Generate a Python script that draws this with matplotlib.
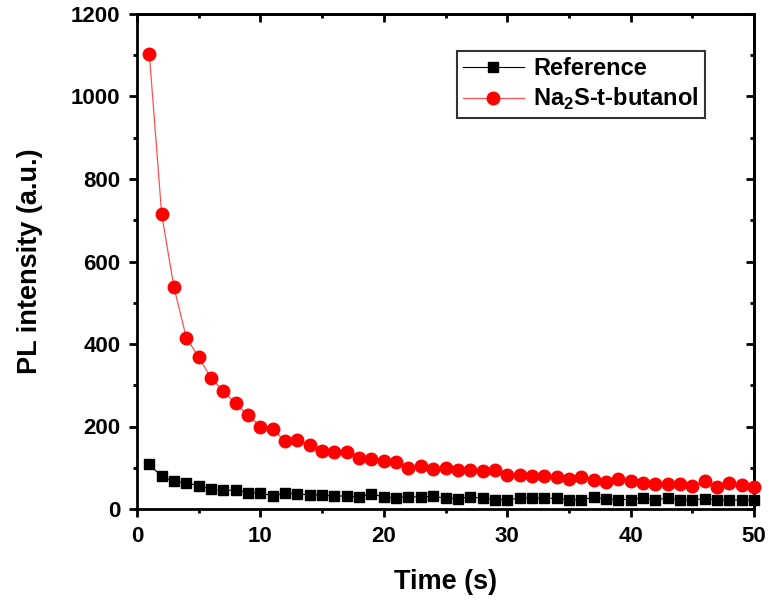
import matplotlib
matplotlib.use("Agg")
import matplotlib.pyplot as plt
from matplotlib.ticker import MultipleLocator

time_s = list(range(1, 51))
reference = [108, 79, 67, 64, 56, 48, 45, 46, 40, 39,
             32, 38, 37, 34, 34, 31, 32, 29, 37, 29,
             27, 30, 29, 31, 26, 25, 29, 26, 23, 23,
             26, 27, 26, 26, 22, 23, 28, 24, 23, 23,
             27, 22, 27, 22, 22, 25, 22, 21, 22, 22]
na2s_tbutanol = [1103, 714, 537, 415, 368, 318, 285, 256, 227, 200,
                 194, 164, 167, 155, 140, 138, 139, 123, 121, 117,
                 113, 99, 105, 98, 100, 94, 94, 92, 94, 82,
                 83, 81, 79, 77, 72, 77, 70, 65, 73, 69,
                 64, 60, 60, 60, 56, 67, 54, 64, 57, 54]

plt.rcParams['font.family'] = ['Liberation Sans', 'DejaVu Sans']
plt.rcParams['font.weight'] = 'bold'
plt.rcParams['mathtext.fontset'] = 'custom'
plt.rcParams['mathtext.bf'] = 'Liberation Sans:bold'
plt.rcParams['mathtext.rm'] = 'Liberation Sans:bold'

fig = plt.figure(figsize=(7.69, 6.03), dpi=100)
ax = fig.add_axes([137/769, 1 - 509/603, (754 - 137)/769, (509 - 14)/603])

ax.plot(time_s, reference, color='black', lw=0.8, marker='s', ms=7.5,
        mfc='black', mec='black', label='Reference', clip_on=False, zorder=3)
ax.plot(time_s, na2s_tbutanol, color='#ff5050', lw=0.9, marker='o', ms=9,
        mfc='red', mec='red', label=r'Na$_{\mathbf{2}}$S-t-butanol', clip_on=False, zorder=3)

ax.set_xlim(0, 50)
ax.set_ylim(0, 1200)
ax.xaxis.set_major_locator(MultipleLocator(10))
ax.xaxis.set_minor_locator(MultipleLocator(5))
ax.yaxis.set_major_locator(MultipleLocator(200))
ax.yaxis.set_minor_locator(MultipleLocator(100))

for s in ax.spines.values():
    s.set_linewidth(2)

ax.tick_params(which='both', direction='out', width=2, labelsize=16,
               top=False, right=False, pad=6)
ax.tick_params(which='major', length=6)
ax.tick_params(which='minor', length=3)

secx = ax.secondary_xaxis('top')
secx.xaxis.set_major_locator(MultipleLocator(10))
secx.xaxis.set_minor_locator(MultipleLocator(5))
secx.tick_params(which='both', direction='in', width=2, labeltop=False)
secx.tick_params(which='major', length=6)
secx.tick_params(which='minor', length=3)
secx.spines['top'].set_linewidth(2)
secy = ax.secondary_yaxis('right')
secy.yaxis.set_major_locator(MultipleLocator(200))
secy.yaxis.set_minor_locator(MultipleLocator(100))
secy.tick_params(which='both', direction='in', width=2, labelright=False)
secy.tick_params(which='major', length=6)
secy.tick_params(which='minor', length=3)
secy.spines['right'].set_linewidth(2)

for lbl in ax.get_xticklabels() + ax.get_yticklabels():
    lbl.set_fontweight('bold')

ax.set_xlabel('Time (s)', fontsize=19.5, fontweight='bold', labelpad=16)
ax.set_ylabel('PL intensity (a.u.)', fontsize=19.5, fontweight='bold', labelpad=20)

leg = ax.legend(loc='upper right', bbox_to_anchor=(0.92, 0.925),
                frameon=True, fancybox=False, edgecolor='black',
                handlelength=2.6, borderpad=0.25, labelspacing=0.25,
                handletextpad=0.4, borderaxespad=0,
                prop={'weight': 'bold', 'size': 17})
leg.get_frame().set_linewidth(1.5)

fig.savefig('out.png', dpi=100)
